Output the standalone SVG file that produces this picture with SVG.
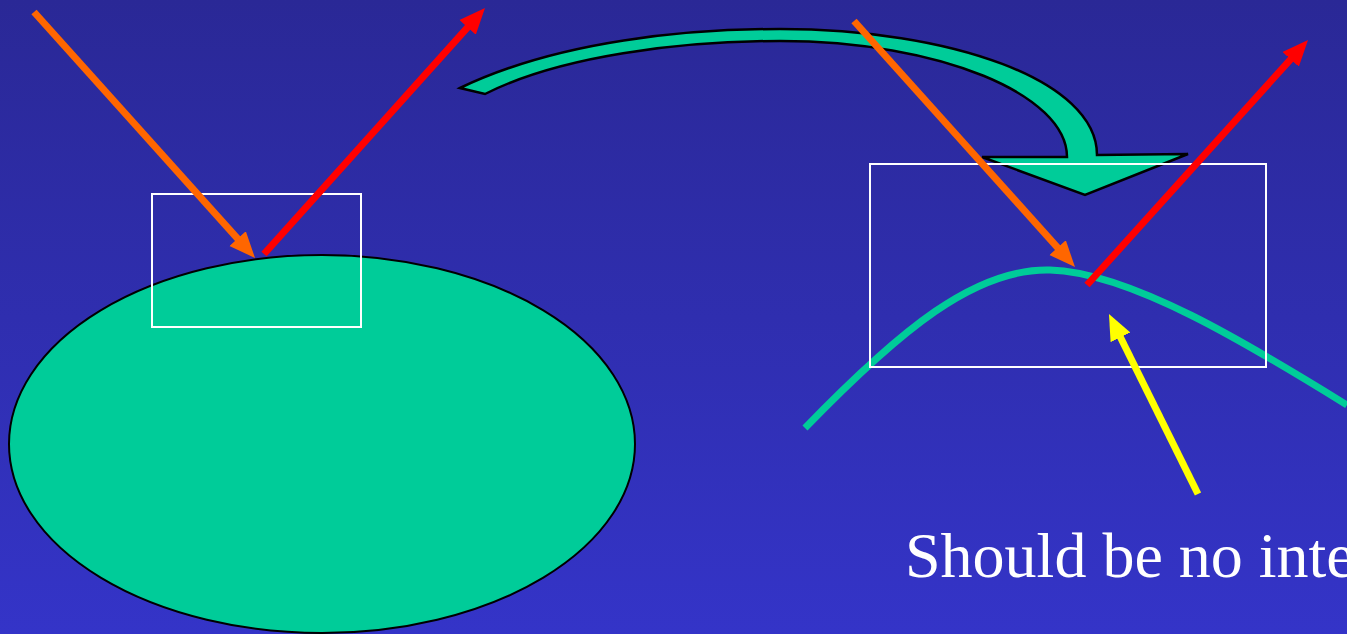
<svg xmlns="http://www.w3.org/2000/svg" width="1347" height="634" viewBox="0 0 1347 634">
<defs>
<linearGradient id="bg" x1="0" y1="0" x2="0" y2="1">
<stop offset="0" stop-color="#2a2896"/>
<stop offset="1" stop-color="#3434c8"/>
</linearGradient>
<marker id="hO" markerUnits="userSpaceOnUse" markerWidth="28" markerHeight="24" refX="4" refY="12" orient="auto"><path d="M0,1 L26,12 L0,23 Z" fill="#ff6600"/></marker>
<marker id="hR" markerUnits="userSpaceOnUse" markerWidth="28" markerHeight="24" refX="4" refY="12" orient="auto"><path d="M0,1 L26,12 L0,23 Z" fill="#ff0000"/></marker>
<marker id="hY" markerUnits="userSpaceOnUse" markerWidth="28" markerHeight="24" refX="4" refY="12" orient="auto"><path d="M0,1 L26,12 L0,23 Z" fill="#ffff00"/></marker>
</defs>
<style>
.ray{stroke-width:7;fill:none}
.o{stroke:#ff6600}
.r{stroke:#ff0000}
.y{stroke:#ffff00}
.box{fill:none;stroke:#ffffff;stroke-width:2}
.label{font-family:"Liberation Serif","Times New Roman",serif;font-size:64px;fill:#ffffff}
</style>
<rect x="0" y="0" width="1347" height="634" fill="url(#bg)"/>
<g id="ellipse"><ellipse cx="322" cy="444" rx="313" ry="189" fill="#00cc99" stroke="#000" stroke-width="2"/></g>
<g id="surface"><path d="M805,428 C900,330 975,268 1050,270 C1130,272 1250,345 1347,405" fill="none" stroke="#00cc99" stroke-width="7"/></g>
<g id="bigArrow"><path d="M460,88 C560,40 690,29 780,29 C950,29 1097,80 1097,155 L1188,154 L1085,195 L982,157 L1067,157 C1067,95 940,41 780,41 C680,41 560,56 485,94 Z" fill="#00cc99" stroke="#000" stroke-width="2.5" stroke-linejoin="miter"/></g>
<g id="boxLeft"><rect class="box" x="152" y="194" width="209" height="133"/></g>
<g id="boxRight"><rect class="box" x="870" y="164" width="396" height="203"/></g>
<g id="connectors">
<line class="ray o" x1="34" y1="12" x2="240.3" y2="241.6" marker-end="url(#hO)"/>
<line class="ray r" x1="264" y1="254" x2="470.3" y2="24.4" marker-end="url(#hR)"/>
<line class="ray o" x1="854" y1="21" x2="1060.3" y2="250.6" marker-end="url(#hO)"/>
<line class="ray r" x1="1087" y1="285" x2="1293.3" y2="56.3" marker-end="url(#hR)"/>
<line class="ray y" x1="1198" y1="494" x2="1118.7" y2="333.7" marker-end="url(#hY)"/>
</g>
<g id="caption"><text class="label" x="905" y="577">Should be no inte</text></g>
</svg>
